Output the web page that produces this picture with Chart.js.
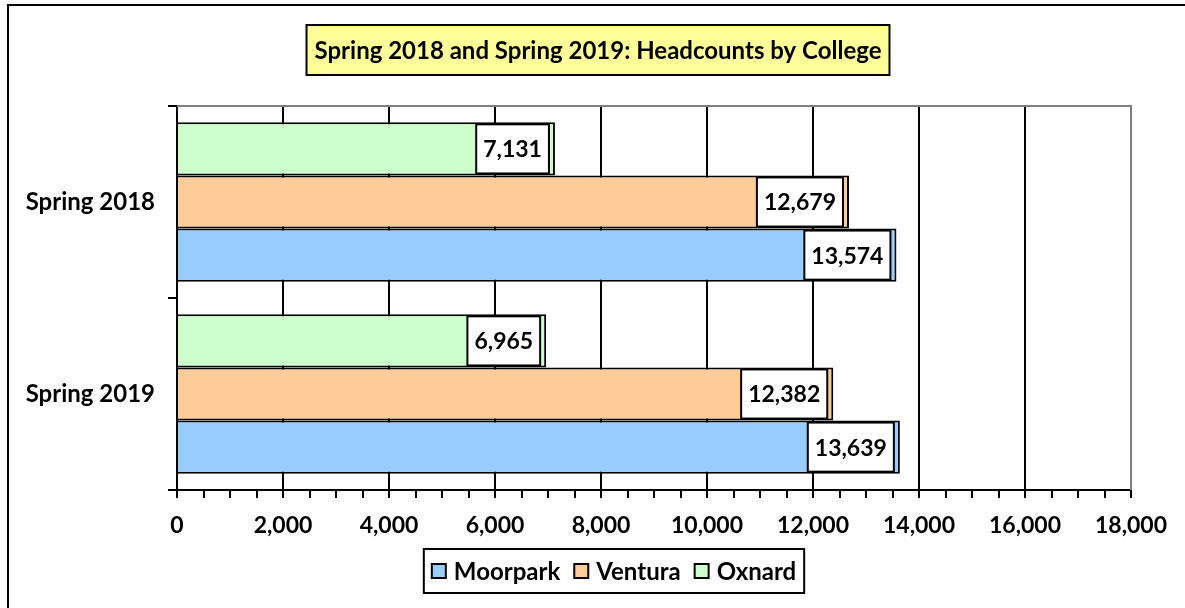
<!DOCTYPE html>
<html>
<head>
<meta charset="utf-8">
<script src="https://cdn.jsdelivr.net/npm/chart.js@4"></script>
<style>
  html, body { margin: 0; padding: 0; background: #fff; }
  canvas { display: block; }
</style>
</head>
<body>
<canvas id="headcountChart" width="1185" height="608"></canvas>
<script>
// Chart data
const categories = ['Spring 2018', 'Spring 2019'];
const moorpark = [13574, 13639];
const ventura = [12679, 12382];
const oxnard = [7131, 6965];
const xMax = 18000;
const chartTitle = 'Spring 2018 and Spring 2019: Headcounts by College';

const FONT = 'Lato';

// Outer frame, title box and plot area edges
const framePlugin = {
    id: 'frame',
    beforeDatasetsDraw(chart) {
        const { ctx, chartArea: a } = chart;
        ctx.save();
        ctx.strokeStyle = '#808080';
        ctx.lineWidth = 2;
        ctx.beginPath();
        ctx.moveTo(a.left, a.top);
        ctx.lineTo(a.right, a.top);
        ctx.lineTo(a.right, a.bottom);
        ctx.stroke();
        ctx.restore();
    },
    afterDraw(chart) {
        const ctx = chart.ctx;
        ctx.save();
        ctx.strokeStyle = '#000';
        ctx.lineWidth = 2;
        ctx.strokeRect(8, 5, 1200, 700);

        // Title in a yellow box
        ctx.font = 'bold 24px ' + FONT;
        const tw = ctx.measureText(chartTitle).width;
        const cx = 598, bw = tw + 16, top = 25, bh = 50;
        ctx.fillStyle = '#FFFF99';
        ctx.fillRect(cx - bw / 2, top, bw, bh);
        ctx.strokeRect(cx - bw / 2, top, bw, bh);
        ctx.fillStyle = '#000';
        ctx.textAlign = 'center';
        ctx.textBaseline = 'middle';
        ctx.fillText(chartTitle, cx, top + bh / 2 + 1);

        // Legend, Moorpark first
        const items = chart.data.datasets.slice().reverse();
        const box = 14, gap = 8, spacing = 14, pad = 8;
        const widths = items.map(d => ctx.measureText(d.label).width);
        const total = widths.reduce((s, w) => s + box + gap + w, 0) + spacing * (items.length - 1);
        const lx = 614 - total / 2 - pad, ly = 549, lh = 44;
        ctx.fillStyle = '#fff';
        ctx.fillRect(lx, ly, total + 2 * pad, lh);
        ctx.strokeRect(lx, ly, total + 2 * pad, lh);
        let x = lx + pad;
        const my = ly + lh / 2;
        ctx.textAlign = 'left';
        items.forEach((d, i) => {
            ctx.fillStyle = d.backgroundColor;
            ctx.fillRect(x, my - box / 2, box, box);
            ctx.strokeRect(x, my - box / 2, box, box);
            x += box + gap;
            ctx.fillStyle = '#000';
            ctx.fillText(d.label, x, my + 1);
            x += widths[i] + spacing;
        });
        ctx.restore();
    }
};

// Value labels in white boxes at the bar ends
const valueLabels = {
    id: 'valueLabels',
    afterDatasetsDraw(chart) {
        const ctx = chart.ctx;
        ctx.save();
        ctx.font = 'bold 23px ' + FONT;
        ctx.textAlign = 'right';
        ctx.textBaseline = 'middle';
        ctx.lineWidth = 2;
        chart.data.datasets.forEach((ds, di) => {
            chart.getDatasetMeta(di).data.forEach((bar, i) => {
                const text = ds.data[i].toLocaleString('en-US');
                const w = ctx.measureText(text).width + 14;
                const h = bar.height - 4;
                const right = bar.x - 6;
                ctx.fillStyle = '#fff';
                ctx.fillRect(right - w, bar.y - h / 2, w, h);
                ctx.strokeStyle = '#000';
                ctx.strokeRect(right - w, bar.y - h / 2, w, h);
                ctx.fillStyle = '#000';
                ctx.fillText(text, right - 7, bar.y + 1);
            });
        });
        ctx.restore();
    }
};

function drawChart() {
    Chart.defaults.font.family = FONT;
    Chart.defaults.font.weight = 'bold';
    Chart.defaults.font.size = 23;
    Chart.defaults.color = '#000';

    new Chart(document.getElementById('headcountChart'), {
        type: 'bar',
        data: {
            labels: categories,
            datasets: [
                { label: 'Oxnard', data: oxnard, backgroundColor: '#CCFFCC' },
                { label: 'Ventura', data: ventura, backgroundColor: '#FFCC99' },
                { label: 'Moorpark', data: moorpark, backgroundColor: '#99CCFF' }
            ]
        },
        options: {
            indexAxis: 'y',
            responsive: false,
            animation: false,
            layout: { padding: { top: 106, right: 54, bottom: 60, left: 0 } },
            datasets: {
                bar: {
                    borderColor: '#000',
                    borderWidth: 2,
                    barPercentage: 1,
                    categoryPercentage: 0.83
                }
            },
            scales: {
                x: {
                    min: 0,
                    max: xMax,
                    afterFit: s => { s.height = 58; },
                    ticks: {
                        stepSize: 500,
                        autoSkip: false,
                        maxRotation: 0,
                        padding: 14,
                        callback: v => v % 2000 === 0 ? v.toLocaleString('en-US') : ''
                    },
                    grid: {
                        lineWidth: 2,
                        tickLength: 8,
                        tickColor: '#000',
                        color: c => {
                            if (!c.tick || c.tick.value % 2000 !== 0) return 'rgba(0,0,0,0)';
                            return c.tick.value === xMax ? '#808080' : '#000';
                        }
                    },
                    border: { color: '#000', width: 2 }
                },
                y: {
                    afterFit: s => { s.width = 177; },
                    ticks: { padding: 13, font: { size: 24 } },
                    grid: {
                        offset: true,
                        drawOnChartArea: false,
                        tickLength: 9,
                        lineWidth: 2,
                        color: '#000'
                    },
                    border: { color: '#000', width: 2 }
                }
            },
            plugins: {
                legend: { display: false },
                title: { display: false },
                tooltip: { enabled: false }
            }
        },
        plugins: [framePlugin, valueLabels]
    });
}

document.fonts.load('bold 24px ' + FONT).then(drawChart, drawChart);
</script>
</body>
</html>
